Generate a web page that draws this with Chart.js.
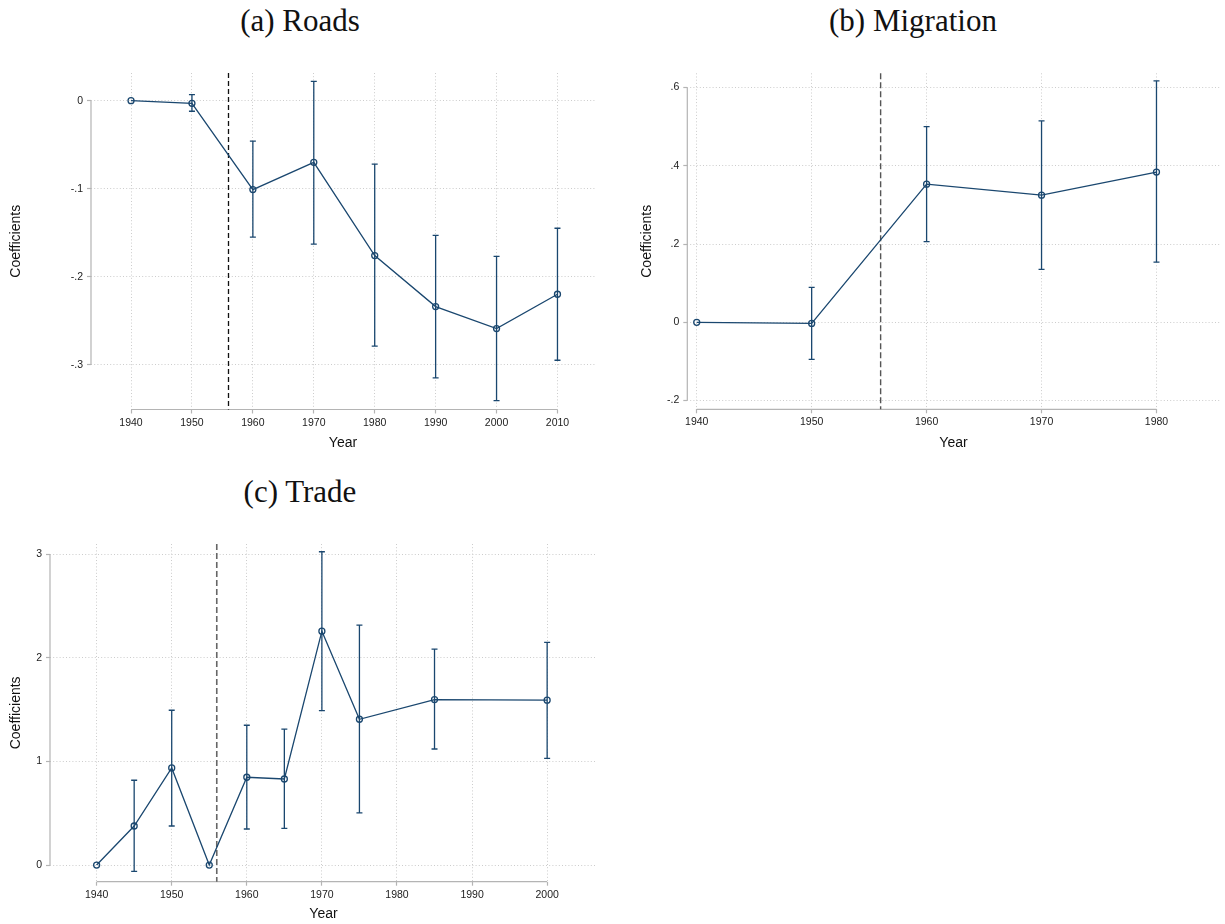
<!DOCTYPE html>
<html>
<head>
<meta charset="utf-8">
<script src="https://cdn.jsdelivr.net/npm/chart.js@4.4.0/dist/chart.umd.min.js"></script>
<style>
  html, body { margin: 0; padding: 0; background: #fff; }
  body { width: 1225px; height: 924px; position: relative; overflow: hidden; }
  .panel { position: absolute; }
  .panel canvas { display: block; }
  .title {
    position: absolute;
    font-family: "Liberation Serif", "Times New Roman", serif;
    font-size: 31px;
    line-height: 31px;
    color: #111;
    text-align: center;
    white-space: nowrap;
  }
</style>
</head>
<body>
<div class="title" style="left:150px; top:5px; width:300px;">(a) Roads</div>
<div class="title" style="left:763px; top:5px; width:300px;">(b) Migration</div>
<div class="title" style="left:150px; top:476px; width:300px;">(c) Trade</div>

<div class="panel" style="left:0px; top:0px;"><canvas id="roads" width="612" height="462"></canvas></div>
<div class="panel" style="left:612px; top:0px;"><canvas id="migration" width="613" height="462"></canvas></div>
<div class="panel" style="left:0px; top:470px;"><canvas id="trade" width="612" height="454"></canvas></div>

<script>
// ---- (a) Roads ----
const roadsYears = [1940, 1950, 1960, 1970, 1980, 1990, 2000, 2010];
const roadsCoef  = [0, -0.003, -0.101, -0.070, -0.176, -0.234, -0.259, -0.220];
const roadsLow   = [null, -0.012, -0.155, -0.163, -0.279, -0.315, -0.341, -0.295];
const roadsHigh  = [null, 0.007, -0.046, 0.022, -0.072, -0.153, -0.177, -0.145];
const roadsXTicks = [1940, 1950, 1960, 1970, 1980, 1990, 2000, 2010];
const roadsYTicks = [-0.3, -0.2, -0.1, 0];
const roadsYLabels = ["-.3", "-.2", "-.1", "0"];

// ---- (b) Migration ----
const migYears = [1940, 1950, 1960, 1970, 1980];
const migCoef  = [0, -0.003, 0.353, 0.325, 0.384];
const migLow   = [null, -0.095, 0.206, 0.135, 0.154];
const migHigh  = [null, 0.089, 0.500, 0.515, 0.617];
const migXTicks = [1940, 1950, 1960, 1970, 1980];
const migYTicks = [-0.2, 0, 0.2, 0.4, 0.6];
const migYLabels = ["-.2", "0", ".2", ".4", ".6"];

// ---- (c) Trade ----
const tradeYears = [1940, 1945, 1950, 1955, 1960, 1965, 1970, 1975, 1985, 2000];
const tradeCoef  = [0, 0.377, 0.938, 0, 0.848, 0.831, 2.259, 1.408, 1.598, 1.592];
const tradeLow   = [null, -0.061, 0.377, null, 0.348, 0.354, 1.492, 0.503, 1.121, 1.031];
const tradeHigh  = [null, 0.819, 1.495, null, 1.350, 1.312, 3.026, 2.317, 2.085, 2.150];
const tradeXTicks = [1940, 1950, 1960, 1970, 1980, 1990, 2000];
const tradeYTicks = [0, 1, 2, 3];
const tradeYLabels = ["0", "1", "2", "3"];

// Year of the policy change, marked by a dashed vertical line
const cutoffYear = 1956;

const NAVY = "#1a476f";
const AXIS_GRAY = "#b4b4b4";
const GRID_GRAY = "#cccccc";
const SANS = '"Liberation Sans", Arial, Helvetica, sans-serif';

// Error bars, axis lines spanning the tick range, and the cutoff line
function makeOverlay(years, low, high, xTicks, yTicks, cutoffStyle) {
  return {
    id: "overlay",
    beforeDatasetsDraw(chart) {
      const { ctx, chartArea } = chart;
      const xs = chart.scales.x, ys = chart.scales.y;
      ctx.save();

      // axis lines: from first to last tick
      ctx.strokeStyle = AXIS_GRAY;
      ctx.lineWidth = 1.2;
      ctx.setLineDash([]);
      ctx.beginPath();
      const yTop = ys.getPixelForValue(yTicks[yTicks.length - 1]);
      const yBot = ys.getPixelForValue(yTicks[0]);
      ctx.moveTo(chartArea.left, yTop);
      ctx.lineTo(chartArea.left, yBot);
      const xL = xs.getPixelForValue(xTicks[0]);
      const xR = xs.getPixelForValue(xTicks[xTicks.length - 1]);
      ctx.moveTo(xL, chartArea.bottom);
      ctx.lineTo(xR, chartArea.bottom);
      ctx.stroke();

      // cutoff line
      const cx = xs.getPixelForValue(cutoffYear);
      ctx.strokeStyle = cutoffStyle.color;
      ctx.lineWidth = cutoffStyle.width;
      ctx.setLineDash(cutoffStyle.dash);
      ctx.beginPath();
      ctx.moveTo(cx, chartArea.top);
      ctx.lineTo(cx, chartArea.bottom);
      ctx.stroke();

      // confidence intervals
      ctx.setLineDash([]);
      ctx.strokeStyle = NAVY;
      ctx.lineWidth = 1.3;
      const cap = 3;
      years.forEach((yr, i) => {
        if (low[i] == null || high[i] == null) return;
        const px = xs.getPixelForValue(yr);
        const p1 = ys.getPixelForValue(low[i]);
        const p2 = ys.getPixelForValue(high[i]);
        ctx.beginPath();
        ctx.moveTo(px, p1); ctx.lineTo(px, p2);
        ctx.moveTo(px - cap, p1); ctx.lineTo(px + cap, p1);
        ctx.moveTo(px - cap, p2); ctx.lineTo(px + cap, p2);
        ctx.stroke();
      });
      ctx.restore();
    }
  };
}

function buildChart(id, cfg) {
  const gridCommon = {
    color: GRID_GRAY,
    lineWidth: 1,
    borderDash: [1, 2.2],
    drawTicks: true,
    tickLength: 4,
    tickColor: AXIS_GRAY,
    tickWidth: 1.2,
    tickBorderDash: []
  };
  const borderCommon = { display: false, dash: [1, 2.2] };

  return new Chart(document.getElementById(id), {
    type: "line",
    data: {
      datasets: [{
        data: cfg.years.map((yr, i) => ({ x: yr, y: cfg.coef[i] })),
        borderColor: NAVY,
        borderWidth: 1.3,
        tension: 0,
        fill: false,
        pointRadius: 3,
        pointBorderWidth: 1.3,
        pointBorderColor: NAVY,
        pointBackgroundColor: "rgba(255,255,255,0)",
        pointStyle: "circle",
        clip: false
      }]
    },
    options: {
      responsive: false,
      animation: false,
      events: [],
      layout: { padding: cfg.padding },
      plugins: { legend: { display: false }, tooltip: { enabled: false }, title: { display: false } },
      scales: {
        x: {
          type: "linear",
          min: cfg.xRange[0],
          max: cfg.xRange[1],
          afterBuildTicks(scale) { scale.ticks = cfg.xTicks.map(v => ({ value: v })); },
          afterFit(scale) { scale.height = cfg.xHeight; },
          grid: gridCommon,
          border: borderCommon,
          ticks: {
            autoSkip: false,
            maxRotation: 0,
            padding: 3,
            color: "#222",
            font: { family: SANS, size: 10.5 },
            callback: (v) => String(v)
          },
          title: {
            display: true,
            text: "Year",
            color: "#111",
            font: { family: SANS, size: 14 },
            padding: { top: 0, bottom: cfg.xTitlePad }
          }
        },
        y: {
          type: "linear",
          min: cfg.yRange[0],
          max: cfg.yRange[1],
          afterBuildTicks(scale) { scale.ticks = cfg.yTicks.map(v => ({ value: v })); },
          afterFit(scale) { scale.width = cfg.yWidth; },
          grid: gridCommon,
          border: borderCommon,
          ticks: {
            autoSkip: false,
            padding: 4,
            color: "#222",
            font: { family: SANS, size: 10.5 },
            callback: (v) => {
              const k = cfg.yTicks.findIndex(t => Math.abs(t - v) < 1e-9);
              return k >= 0 ? cfg.yLabels[k] : "";
            }
          },
          title: {
            display: true,
            text: "Coefficients",
            color: "#111",
            font: { family: SANS, size: 14 },
            padding: { top: cfg.yTitlePad, bottom: 0 }
          }
        }
      }
    },
    plugins: [makeOverlay(cfg.years, cfg.low, cfg.high, cfg.xTicks, cfg.yTicks, cfg.cutoff)]
  });
}

buildChart("roads", {
  years: roadsYears, coef: roadsCoef, low: roadsLow, high: roadsHigh,
  xTicks: roadsXTicks, yTicks: roadsYTicks, yLabels: roadsYLabels,
  xRange: [1933.43, 2016.16], yRange: [-0.351, 0.0315],
  padding: { left: 0, top: 73, right: 17, bottom: 0 },
  yWidth: 91, xHeight: 52.5, xTitlePad: 10.6, yTitlePad: 7.6,
  cutoff: { color: "#111", width: 1.3, dash: [5, 3] }
});

buildChart("migration", {
  years: migYears, coef: migCoef, low: migLow, high: migHigh,
  xTicks: migXTicks, yTicks: migYTicks, yLabels: migYLabels,
  xRange: [1939.18, 1985.5], yRange: [-0.2224, 0.6364],
  padding: { left: 0, top: 73.3, right: 1, bottom: 0 },
  yWidth: 75.3, xHeight: 52.7, xTitlePad: 10.6, yTitlePad: 26.6,
  cutoff: { color: "#555", width: 1.4, dash: [6, 3] }
});

buildChart("trade", {
  years: tradeYears, coef: tradeCoef, low: tradeLow, high: tradeHigh,
  xTicks: tradeXTicks, yTicks: tradeYTicks, yLabels: tradeYLabels,
  xRange: [1933.79, 2006.64], yRange: [-0.161, 3.101],
  padding: { left: 0, top: 74, right: 15, bottom: 0 },
  yWidth: 50, xHeight: 42.3, xTitlePad: 1.6, yTitlePad: 7.6,
  cutoff: { color: "#666", width: 1.6, dash: [6, 3] }
});
</script>
</body>
</html>
